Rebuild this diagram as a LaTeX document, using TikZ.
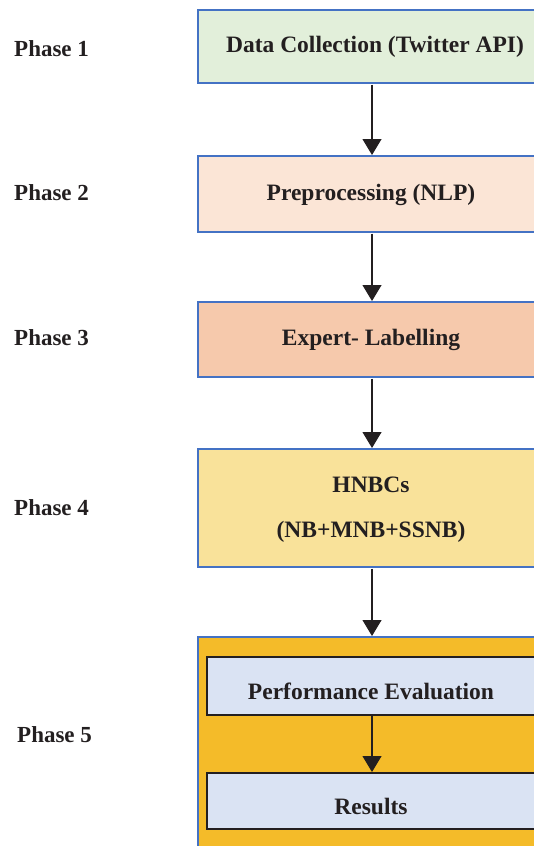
\documentclass[tikz,border=0pt]{standalone}
\usepackage{fontspec}
\setmainfont{Liberation Serif}
\usetikzlibrary{arrows.meta}
\definecolor{bblue}{HTML}{4472C4}
\definecolor{cgreen}{HTML}{E2EFDA}
\definecolor{cpeach}{HTML}{FBE5D6}
\definecolor{csalmon}{HTML}{F6C9AC}
\definecolor{cyellow}{HTML}{F9E29A}
\definecolor{corange}{HTML}{F4BB29}
\definecolor{cblue}{HTML}{DAE3F3}
\definecolor{ink}{HTML}{231F20}
\tikzset{
  phasebox/.style={draw=bblue, line width=2.2pt},
  innerbox/.style={draw=ink, line width=2.2pt, fill=cblue},
  lbl/.style={font=\fontsize{23.5}{28}\selectfont\bfseries, text=ink, inner sep=0pt, anchor=base},
  phaselbl/.style={font=\fontsize{23}{27}\selectfont\bfseries, text=ink, inner sep=0pt, anchor=base west},
  flow/.style={draw=ink, line width=1.2pt, -{Triangle[length=16pt,width=19pt]}}
}
\begin{document}
\begin{tikzpicture}[x=1pt,y=-1pt]
\useasboundingbox (0,0) rectangle (534,846);
\begin{scope}
\clip (0,0) rectangle (534,846);
\draw[phasebox, fill=cgreen] (198,10) rectangle (560,83);
\draw[phasebox, fill=cpeach] (198,156) rectangle (560,232);
\draw[phasebox, fill=csalmon] (198,302) rectangle (560,377);
\draw[phasebox, fill=cyellow] (198,449) rectangle (560,567);
\draw[phasebox, fill=corange] (198,637) rectangle (560,870);
\draw[innerbox] (207,657) rectangle (560,715);
\draw[innerbox] (207,773) rectangle (560,829);
\end{scope}
\node[lbl] (b1) at (375,52) {Data Collection (Twitter API)};
\node[lbl] (b2) at (371,200) {Preprocessing (NLP)};
\node[lbl] (b3) at (371,345) {Expert- Labelling};
\node[lbl] (b4a) at (371,492) {HNBCs};
\node[lbl] (b4b) at (371,537) {(NB+MNB+SSNB)};
\node[lbl] (b5a) at (371,699) {Performance Evaluation};
\node[lbl] (b5b) at (371,814) {Results};
\node[phaselbl] (p1) at (14,56) {Phase 1};
\node[phaselbl] (p2) at (14,200) {Phase 2};
\node[phaselbl] (p3) at (14,345) {Phase 3};
\node[phaselbl] (p4) at (14,515) {Phase 4};
\node[phaselbl] (p5) at (17,742) {Phase 5};
\coordinate (t1) at (372,84.5);
\coordinate (h2) at (372,155);
\coordinate (t2) at (372,233.5);
\coordinate (h3) at (372,301);
\coordinate (t3) at (372,378.5);
\coordinate (h4) at (372,448);
\coordinate (t4) at (372,568.5);
\coordinate (h5) at (372,636);
\coordinate (t5) at (372,716);
\coordinate (h6) at (372,772);
\draw[flow] (t1) -- (h2);
\draw[flow] (t2) -- (h3);
\draw[flow] (t3) -- (h4);
\draw[flow] (t4) -- (h5);
\draw[flow] (t5) -- (h6);
\end{tikzpicture}
\end{document}
